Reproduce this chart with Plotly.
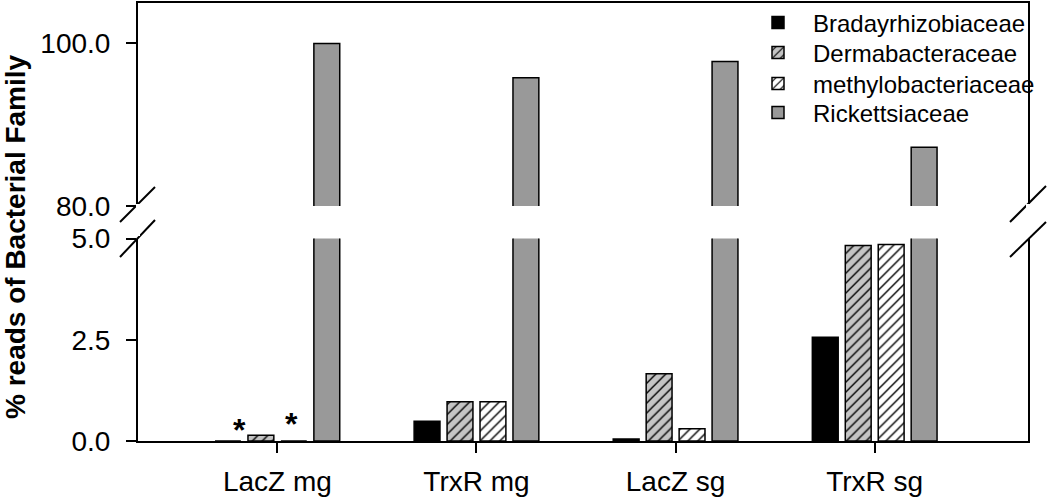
import plotly.graph_objects as go

categories = ["LacZ mg", "TrxR mg", "LacZ sg", "TrxR sg"]
series_names = ["Bradayrhizobiaceae", "Dermabacteraceae", "methylobacteriaceae", "Rickettsiaceae"]
bradyrhizobiaceae = [0.0, 0.49, 0.05, 2.56]
dermabacteraceae = [0.14, 0.97, 1.66, 4.83]
methylobacteriaceae = [0.0, 0.97, 0.30, 4.85]
rickettsiaceae = [99.9, 95.7, 97.7, 87.2]
lower_ticks = [0.0, 2.5, 5.0]
upper_ticks = [80.0, 100.0]
star_labels = ["*", "*"]

values = [bradyrhizobiaceae, dermabacteraceae, methylobacteriaceae, rickettsiaceae]
styles = [
    dict(color="black", pattern=dict(shape="")),
    dict(color="#c4c4c4", pattern=dict(shape="/", fgcolor="black", bgcolor="#c4c4c4", size=7, solidity=0.2)),
    dict(color="white", pattern=dict(shape="/", fgcolor="black", bgcolor="white", size=7, solidity=0.2)),
    dict(color="#999999", pattern=dict(shape="")),
]
legend_ids = ["legend", "legend2", "legend3", "legend4"]

FONT = "Arial, Liberation Sans, sans-serif"
fig = go.Figure()
for name, vals, st, lg in zip(series_names, values, styles, legend_ids):
    mk = dict(color=st["color"], pattern=st["pattern"], line=dict(color="black", width=1.5))
    fig.add_trace(go.Bar(x=categories, y=vals, name=name, marker=mk,
                         xaxis="x", yaxis="y", showlegend=True, legend=lg))
    fig.add_trace(go.Bar(x=categories, y=vals, name=name, marker=mk,
                         xaxis="x2", yaxis="y2", showlegend=False))

# plot area in pixels: left 138, right 1028, top 3, bottom 441
L, R, T, B = 138, 1028, 3, 441
W, H = R - L, B - T
def px(x):
    return (x - L) / W
def py(y):
    return (B - y) / H

axis_common = dict(showline=True, linecolor="black", linewidth=2, showgrid=False, zeroline=False,
                   automargin=False)
legend_rows = [23, 53, 84, 113]
legends = {}
for lg, yrow in zip(legend_ids, legend_rows):
    legends[lg] = dict(x=px(743), y=py(yrow), xanchor="left", yanchor="middle",
                       bgcolor="rgba(0,0,0,0)", font=dict(size=24), itemwidth=60)

fig.update_layout(
    template="none",
    width=1050, height=497,
    margin=dict(l=L, r=1050 - R, t=T, b=497 - B, pad=0, autoexpand=False),
    paper_bgcolor="white", plot_bgcolor="white",
    barmode="group", bargap=0.338, bargroupgap=0.215,
    font=dict(family=FONT, color="black", size=28),
    xaxis=dict(**axis_common, range=[-0.70, 3.77], ticks="outside", ticklen=10, tickwidth=2,
               tickcolor="black", anchor="y", tickfont=dict(size=28), ticklabelstandoff=4),
    xaxis2=dict(**axis_common, matches="x", anchor="y2", side="top", showticklabels=False, ticks=""),
    yaxis=dict(**axis_common, domain=[0, py(238.5)], range=[0, 5], tickvals=lower_ticks,
               tickformat=".1f", ticks="outside", ticklen=10, tickwidth=2, tickcolor="black",
               mirror=True, tickfont=dict(size=28), ticklabelstandoff=10),
    yaxis2=dict(**axis_common, domain=[py(206), 1], range=[80, 104.86], tickvals=upper_ticks,
                tickformat=".1f", ticks="outside", ticklen=10, tickwidth=2, tickcolor="black",
                mirror=True, anchor="x2", tickfont=dict(size=28), ticklabelstandoff=10),
    showlegend=True,
    **legends,
)

# axis-break marks
breaks = [((120, 257), (155, 220)), ((120, 222), (155, 187)),
          ((1010, 257), (1046, 222)), ((1010, 222), (1046, 186))]
for (x0, y0), (x1, y1) in breaks:
    fig.add_shape(type="line", xref="paper", yref="paper", x0=px(x0), y0=py(y0), x1=px(x1), y1=py(y1),
                  line=dict(color="black", width=2))
# white-out the axis line between breaks
for xx in (L, R):
    fig.add_shape(type="line", xref="paper", yref="paper", x0=px(xx), x1=px(xx), y0=py(236), y1=py(204),
                  line=dict(color="white", width=4), layer="above")

# y axis title
fig.add_annotation(text="<b>% reads of Bacterial Family</b>", textangle=-90, xref="paper", yref="paper",
                   x=px(15), y=py(237), xanchor="center", yanchor="middle", showarrow=False,
                   font=dict(size=28))

# asterisks marking zero values
star_x = [-0.19, 0.07]
star_y = [0.28, 0.43]
for s, xv, yv in zip(star_labels, star_x, star_y):
    fig.add_annotation(text="<b>" + s + "</b>", x=xv, y=yv, xref="x", yref="y", showarrow=False,
                       font=dict(size=32), yanchor="middle")

fig.write_html("out.html", config={"displayModeBar": False},
               post_script="document.body.style.margin='0px';")
